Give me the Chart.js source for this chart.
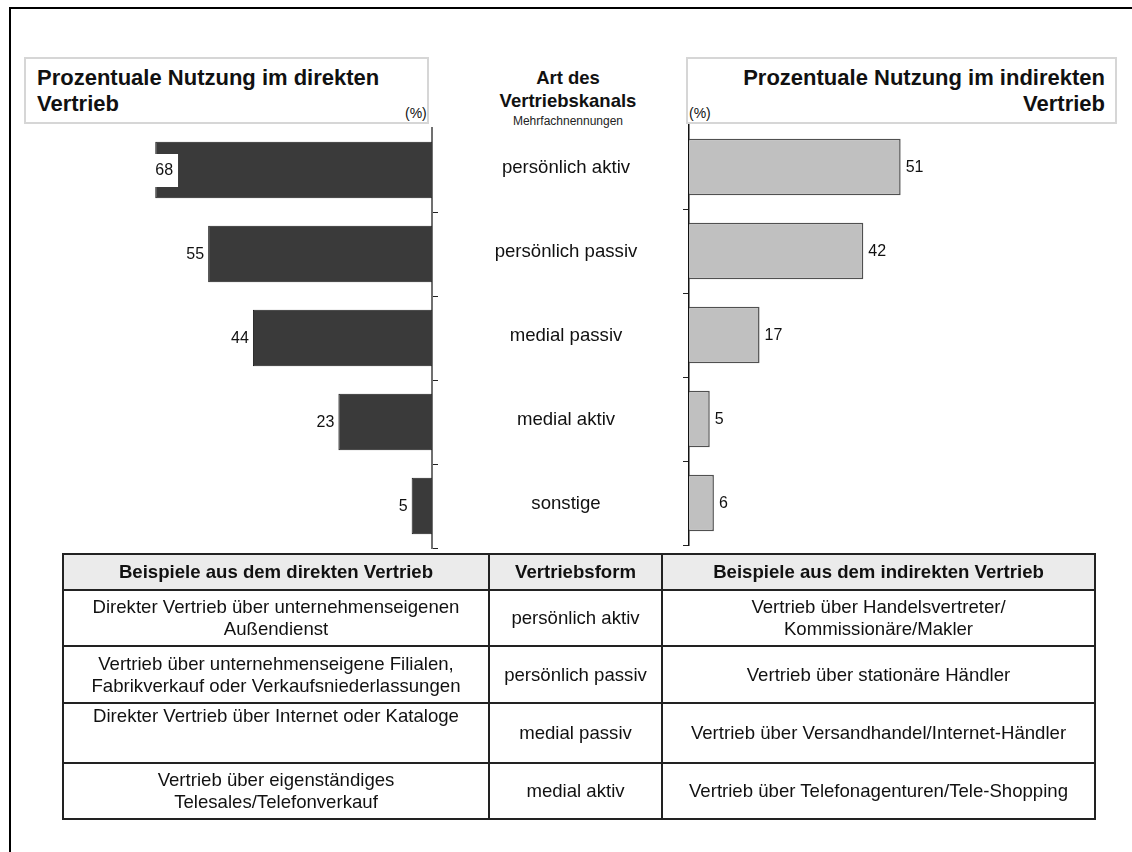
<!DOCTYPE html>
<html>
<head>
<meta charset="utf-8">
<script src="https://cdn.jsdelivr.net/npm/chart.js@4/dist/chart.umd.min.js"></script>
<style>
  html, body { margin: 0; padding: 0; background: #fff; }
  body {
    width: 1132px; height: 852px; position: relative; overflow: hidden;
    font-family: "Liberation Sans", Arial, Helvetica, sans-serif; color: #111;
  }
  .frame-top  { position: absolute; left: 9px; top: 7px; width: 1123px; height: 2px; background: #000; }
  .frame-left { position: absolute; left: 9px; top: 7px; width: 2px; height: 845px; background: #000; }
  .tbox { position: absolute; top: 57px; height: 67px; border: 2px solid #d6d6d6; box-sizing: border-box; }
  .ttl { position: absolute; font-weight: bold; font-size: 22px; line-height: 26px; white-space: nowrap; }
  .unit { position: absolute; font-size: 14px; line-height: 16px; }
  .mid { position: absolute; left: 468px; width: 200px; text-align: center; white-space: nowrap; }
  canvas { position: absolute; top: 0; }
  table {
    position: absolute; left: 62px; top: 553px; width: 1032px;
    border-collapse: collapse; font-size: 18.6px; line-height: 22px; table-layout: fixed;
  }
  th, td { border: 2px solid #222; text-align: center; vertical-align: middle; padding: 0 1px; white-space: pre; overflow: visible; }
  th { background: #ebebeb; font-weight: bold; height: 34px; }
  td.top { vertical-align: top; padding-top: 1px; }
</style>
</head>
<body>
<div class="frame-top"></div>
<div class="frame-left"></div>

<div class="tbox" style="left:24px;width:405px;"></div>
<div class="ttl" style="left:37px;top:65px;">Prozentuale Nutzung im direkten<br>Vertrieb</div>
<div class="unit" style="left:405px;top:105px;">(%)</div>

<div class="tbox" style="left:686px;width:431px;"></div>
<div class="ttl" style="right:27px;top:65px;text-align:right;">Prozentuale Nutzung im indirekten<br>Vertrieb</div>
<div class="unit" style="left:689px;top:105px;">(%)</div>

<div class="mid" style="top:66px;font-weight:bold;font-size:18.5px;line-height:23px;">Art des<br>Vertriebskanals</div>
<div class="mid" style="top:114px;font-size:12px;line-height:14px;color:#222;">Mehrfachnennungen</div>

<canvas id="leftChart" width="690" height="560" style="left:0;"></canvas>
<canvas id="rightChart" width="452" height="560" style="left:680px;"></canvas>

<table id="examples">
  <colgroup><col style="width:426px"><col style="width:173px"><col style="width:433px"></colgroup>
  <thead><tr id="headRow"></tr></thead>
  <tbody id="bodyRows"></tbody>
</table>

<script>
// Vertriebskanäle and shares (%)
const categories = ['persönlich aktiv', 'persönlich passiv', 'medial passiv', 'medial aktiv', 'sonstige'];
const directShare = [68, 55, 44, 23, 5];
const indirectShare = [51, 42, 17, 5, 6];
const axisMax = 100;

// Example table
const tableHeader = ['Beispiele aus dem direkten Vertrieb', 'Vertriebsform', 'Beispiele aus dem indirekten Vertrieb'];
const directExamples = [
  'Direkter Vertrieb über unternehmenseigenen\nAußendienst',
  'Vertrieb über unternehmenseigene Filialen,\nFabrikverkauf oder Verkaufsniederlassungen',
  'Direkter Vertrieb über Internet oder Kataloge',
  'Vertrieb über eigenständiges\nTelesales/Telefonverkauf'
];
const channelForms = ['persönlich aktiv', 'persönlich passiv', 'medial passiv', 'medial aktiv'];
const indirectExamples = [
  'Vertrieb über Handelsvertreter/\nKommissionäre/Makler',
  'Vertrieb über stationäre Händler',
  'Vertrieb über Versandhandel/Internet-Händler',
  'Vertrieb über Telefonagenturen/Tele-Shopping'
];

// build the table
const rowHeights = [56, 57, 60, 56];
const headRow = document.getElementById('headRow');
tableHeader.forEach(h => { const th = document.createElement('th'); th.textContent = h; headRow.appendChild(th); });
const body = document.getElementById('bodyRows');
channelForms.forEach((form, i) => {
  const tr = document.createElement('tr');
  tr.style.height = rowHeights[i] + 'px';
  [directExamples[i], form, indirectExamples[i]].forEach((txt, c) => {
    const td = document.createElement('td');
    td.textContent = txt;
    if (i === 2 && c === 0) td.className = 'top';
    tr.appendChild(td);
  });
  body.appendChild(tr);
});

const FONT = '"Liberation Sans", Arial, Helvetica, sans-serif';

// value labels at the outer end of each bar
const valueLabels = {
  id: 'valueLabels',
  afterDatasetsDraw(chart, args, opts) {
    const { ctx } = chart;
    const meta = chart.getDatasetMeta(0);
    const values = chart.data.datasets[0].data;
    ctx.save();
    ctx.font = '16px ' + FONT;
    ctx.textBaseline = 'middle';
    meta.data.forEach((bar, i) => {
      const v = values[i];
      const txt = String(v);
      const w = ctx.measureText(txt).width;
      ctx.fillStyle = '#111';
      if (opts.side === 'left') {
        if (v >= opts.insideFrom) {
          // long bar: label sits inside the bar end on a white patch
          ctx.fillStyle = '#fff';
          ctx.fillRect(bar.x - 2, bar.y - 16, w + 7, 33);
          ctx.fillStyle = '#111';
          ctx.textAlign = 'left';
          ctx.fillText(txt, bar.x, bar.y + 1);
        } else {
          ctx.textAlign = 'right';
          ctx.fillText(txt, bar.x - 4, bar.y + 1);
        }
      } else {
        ctx.textAlign = 'left';
        ctx.fillText(txt, bar.x + 5, bar.y + 1);
      }
    });
    ctx.restore();
  }
};

// channel names in the gap between both charts
const channelNames = {
  id: 'channelNames',
  afterDraw(chart, args, opts) {
    const { ctx } = chart;
    const y = chart.scales.y;
    ctx.save();
    ctx.font = '18.6px ' + FONT;
    ctx.fillStyle = '#111';
    ctx.textAlign = 'center';
    ctx.textBaseline = 'middle';
    chart.data.labels.forEach((lab, i) => {
      ctx.fillText(lab, opts.x, y.getPixelForValue(i) - 2);
    });
    ctx.restore();
  }
};

function tickColor(color) {
  return ctx => (ctx.index === 0 || ctx.index === categories.length) ? 'rgba(0,0,0,0)' : color;
}

new Chart(document.getElementById('leftChart'), {
  type: 'bar',
  data: {
    labels: categories,
    datasets: [{
      data: directShare,
      backgroundColor: '#3a3a3a',
      borderColor: '#1c1c1c',
      borderWidth: 1,
      categoryPercentage: 1,
      barPercentage: 0.67
    }]
  },
  options: {
    indexAxis: 'y',
    responsive: false,
    animation: false,
    layout: { padding: { left: 25, right: 252, top: 128, bottom: 12 } },
    plugins: {
      legend: { display: false },
      tooltip: { enabled: false },
      valueLabels: { side: 'left', insideFrom: 60 },
      channelNames: { x: 566 }
    },
    scales: {
      x: { type: 'linear', min: 0, max: axisMax, reverse: true, display: false },
      y: {
        position: 'right',
        offset: true,
        ticks: { display: false },
        grid: { drawOnChartArea: false, drawTicks: true, tickLength: 6, tickColor: tickColor('#222'), tickWidth: 1 },
        border: { display: true, color: '#707070', width: 2 }
      }
    }
  },
  plugins: [valueLabels, channelNames]
});

new Chart(document.getElementById('rightChart'), {
  type: 'bar',
  data: {
    labels: categories,
    datasets: [{
      data: indirectShare,
      backgroundColor: '#c0c0c0',
      borderColor: '#505050',
      borderWidth: 1.5,
      categoryPercentage: 1,
      barPercentage: 0.67
    }]
  },
  options: {
    indexAxis: 'y',
    responsive: false,
    animation: false,
    layout: { padding: { left: 3, right: 28, top: 125, bottom: 15 } },
    plugins: {
      legend: { display: false },
      tooltip: { enabled: false },
      valueLabels: { side: 'right' }
    },
    scales: {
      x: { type: 'linear', min: 0, max: axisMax, display: false },
      y: {
        position: 'left',
        offset: true,
        ticks: { display: false },
        grid: { drawOnChartArea: false, drawTicks: true, tickLength: 6, tickColor: tickColor('#222'), tickWidth: 1 },
        border: { display: true, color: '#111', width: 1.5 }
      }
    }
  },
  plugins: [valueLabels]
});
</script>
</body>
</html>
